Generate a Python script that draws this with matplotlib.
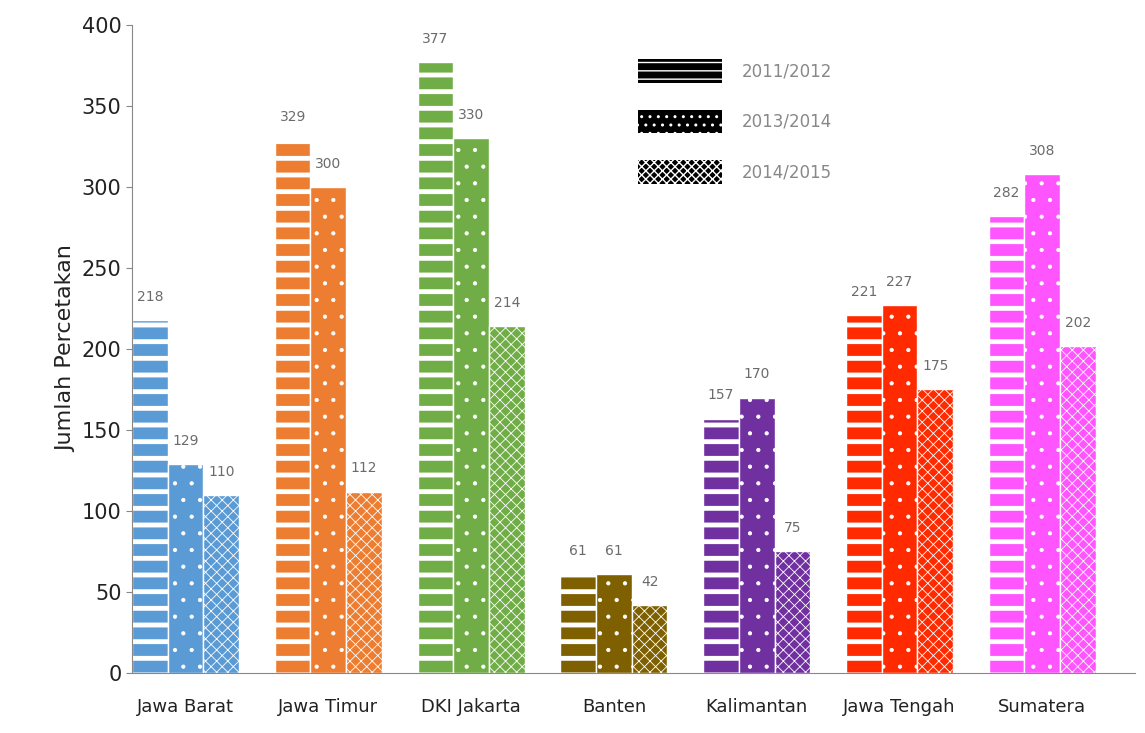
import matplotlib
matplotlib.use("Agg")
import matplotlib.pyplot as plt
import numpy as np
from matplotlib.patches import Patch

regions = ["Jawa Barat", "Jawa Timur", "DKI Jakarta", "Banten", "Kalimantan", "Jawa Tengah", "Sumatera"]
series_names = ["2011/2012", "2013/2014", "2014/2015"]
v2011 = [218, 329, 377, 61, 157, 221, 282]
v2013 = [129, 300, 330, 61, 170, 227, 308]
v2014 = [110, 112, 214, 42, 75, 175, 202]
colors = ["#5B9BD5", "#ED7D31", "#70AD47", "#7F6000", "#7030A0", "#FF2A00", "#FF55FF"]
hatches = ["-", ".", "xxx"]
hatch_lw = [3.5, 0.6, 0.6]

fig = plt.figure(figsize=(11.45, 7.33), dpi=100)
ax = fig.add_axes([0.1153, 0.0819, 0.876, 0.884])

x = np.arange(len(regions))
w = 0.25
all_vals = [v2011, v2013, v2014]
for si, vals in enumerate(all_vals):
    pos = x + (si - 1) * w
    with plt.rc_context({'hatch.linewidth': hatch_lw[si]}):
        for i, v in enumerate(vals):
            bars = ax.bar(pos[i], v, width=w, color=colors[i], edgecolor="white",
                          linewidth=1.0, hatch=hatches[si], zorder=2)
            for b in bars:
                if hasattr(b, "set_hatch_linewidth"):
                    b.set_hatch_linewidth(hatch_lw[si])
            ax.text(pos[i], v + 10, str(v), ha="center", va="bottom",
                    fontsize=10, color="#6b6b6b")

ax.set_xlim(-0.375, 6.65)
ax.set_ylim(0, 400)
ax.set_yticks(range(0, 401, 50))
ax.tick_params(axis='y', labelsize=15, length=4, color="#888888", labelcolor="#222222")
ax.set_xticks(x)
ax.set_xticklabels(regions, fontsize=13, color="#222222")
ax.tick_params(axis='x', length=0, pad=18)
for s in ["top", "right"]:
    ax.spines[s].set_visible(False)
ax.spines["left"].set_color("#888888")
ax.spines["bottom"].set_color("#888888")
ax.set_ylabel("Jumlah Percetakan", fontsize=16, color="#222222")

leg_hatch = ["--", "..", "xxxx"]
leg_lw = [1.2, 1.0, 1.0]
handles = []
for h, n, lw in zip(leg_hatch, series_names, leg_lw):
    with plt.rc_context({'hatch.linewidth': lw}):
        p = Patch(facecolor="black", edgecolor="white", linewidth=0, hatch=h, label=n)
        if hasattr(p, "set_hatch_linewidth"):
            p.set_hatch_linewidth(lw)
    handles.append(p)
with plt.rc_context({'hatch.linewidth': 1.0}):
    ax.legend(handles=handles, loc="upper left", bbox_to_anchor=(0.49, 0.97),
              frameon=False, fontsize=12, handlelength=5, handleheight=1.8,
              labelspacing=1.6, handletextpad=1.2, labelcolor="#888888")

fig.savefig("out.png", dpi=100)
